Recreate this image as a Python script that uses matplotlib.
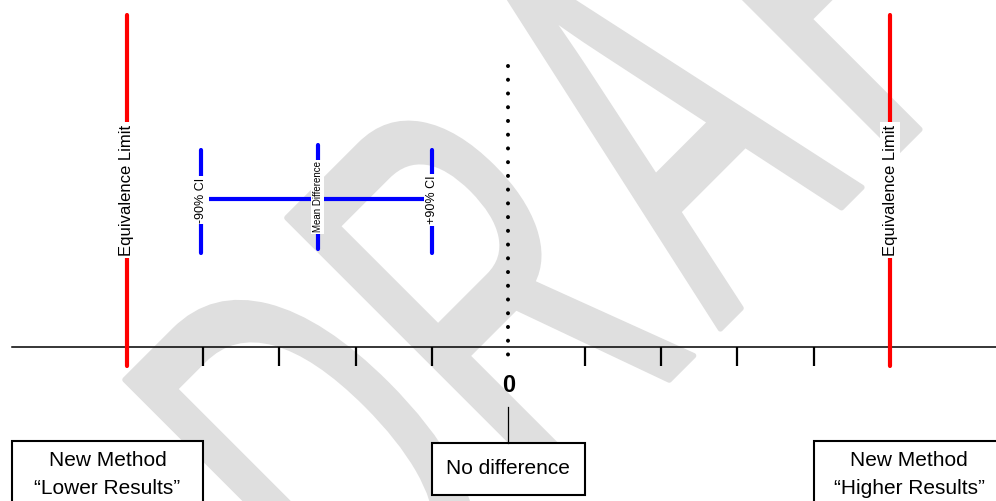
import matplotlib
matplotlib.use('Agg')
import matplotlib.pyplot as plt
from matplotlib.textpath import TextPath
from matplotlib.patches import PathPatch, Rectangle
from matplotlib.font_manager import FontProperties
from matplotlib.transforms import Affine2D, IdentityTransform

plt.rcParams['font.family'] = ['Liberation Sans', 'DejaVu Sans']

# difference scale (units of the measured quantity)
equiv_limits = [-5, 5]
tick_values = [-4, -3, -2, -1, 1, 2, 3, 4]
no_diff = 0
ci_lower, ci_mean, ci_upper = -4.03, -2.5, -1.0
ci_labels = ['-90% CI', 'Mean Difference', '+90% CI']
limit_label = 'Equivalence Limit'

# explanatory boxes under the axis: (left, right) on the scale, text lines
box_spans = [(-6.5, -4.0), (-1.0, 1.0), (4.0, 6.5)]
box_lines = [['New Method', '\u201cLower Results\u201d'],
             ['No difference'],
             ['New Method', '\u201cHigher Results\u201d']]

W, H = 996, 501
fig = plt.figure(figsize=(W / 100, H / 100), dpi=100)
ax = fig.add_axes([0, 0, 1, 1])
ax.patch.set_visible(False)
ax.axis('off')

# 76.33 px per unit, -5 sits at x=126.7 px
px = 76.33
ax.set_xlim(-5 - 126.7 / px, 5 + (W - 890) / px)
ax.set_ylim(H, 0)  # vertical layout in pixel rows

# watermark, one condensed letter at a time along a 45 degree baseline
fp = FontProperties(family='Liberation Sans')
wm_word = 'DRAFT'
wm_width = [182, 190, 200, 165, 190]
wm_cap = 385
wm_step = 233
a_center = (655, H - 122)   # centre of the middle letter, display pixels
for i, (ch, w) in enumerate(zip(wm_word, wm_width)):
    tp = TextPath((0, 0), ch, size=1, prop=fp)
    bb = tp.get_extents()
    off = (i - 2) * wm_step / 2 ** 0.5
    tr = (Affine2D()
          .translate(-(bb.x0 + bb.x1) / 2, -(bb.y0 + bb.y1) / 2)
          .scale(w / bb.width, wm_cap / bb.height)
          .rotate_deg(45)
          .translate(a_center[0] + off, a_center[1] + off))
    ax.add_artist(PathPatch(tr.transform_path(tp), fc='#dfdfdf', ec='#dfdfdf',
                            lw=4, joinstyle='round', transform=IdentityTransform(),
                            zorder=0))

axis_y = 347
label_box = dict(boxstyle='square,pad=0.15', fc='white', ec='none')

# horizontal axis with ticks
ax.plot([-6.5, ax.get_xlim()[1]], [axis_y, axis_y], color='black', lw=1.1, zorder=2)
ax.vlines(tick_values, axis_y, 366, color='black', lw=1.6, zorder=2)

# equivalence limits
for x in equiv_limits:
    ax.plot([x, x], [15, 366], color='red', lw=3, solid_capstyle='round', zorder=3)
    ax.text(x, 190, limit_label, rotation=90, ha='center', va='center',
            fontsize=12, bbox=label_box, zorder=4)

# zero line
ax.plot([no_diff, no_diff], [66, 366], color='black', lw=2.9,
        linestyle=(0, (0.01, 3.4)), dash_capstyle='round', zorder=3)
ax.text(no_diff, 386, '0', fontsize=17, fontweight='bold',
        ha='center', va='center', zorder=4)

# confidence interval
ax.plot([ci_lower, ci_upper], [198.5, 198.5], color='blue', lw=3, zorder=3)
ci_x = [ci_lower, ci_mean, ci_upper]
ci_top = [150, 145, 150]
ci_bot = [253, 249, 253]
ci_size = [9, 7, 9]
ci_text_y = [200, 197, 200]
for x, t, b, lab, fs, ty in zip(ci_x, ci_top, ci_bot, ci_labels, ci_size, ci_text_y):
    ax.plot([x, x], [t, b], color='blue', lw=3, solid_capstyle='round', zorder=3)
    ax.text(x, ty, lab, rotation=90, ha='center', va='center', fontsize=fs,
            bbox=label_box, zorder=4)

# boxes below
box_top = [441, 443, 441]
box_bot = [515, 495, 515]
for (x0, x1), lines, t, b in zip(box_spans, box_lines, box_top, box_bot):
    ax.add_patch(Rectangle((x0, t), x1 - x0, b - t, fc='white', ec='black',
                           lw=1.5, zorder=3))
    cx = (x0 + x1) / 2
    if len(lines) == 1:
        ax.text(cx, 469, lines[0], ha='center', va='center', fontsize=15, zorder=4)
    else:
        for ly, line in zip([461, 488], lines):
            ax.text(cx, ly, line, ha='center', va='center', fontsize=15, zorder=4)

# connector from zero to its box
ax.plot([no_diff, no_diff], [407, 443], color='black', lw=0.9, zorder=3)

fig.savefig('out.png', dpi=100)
